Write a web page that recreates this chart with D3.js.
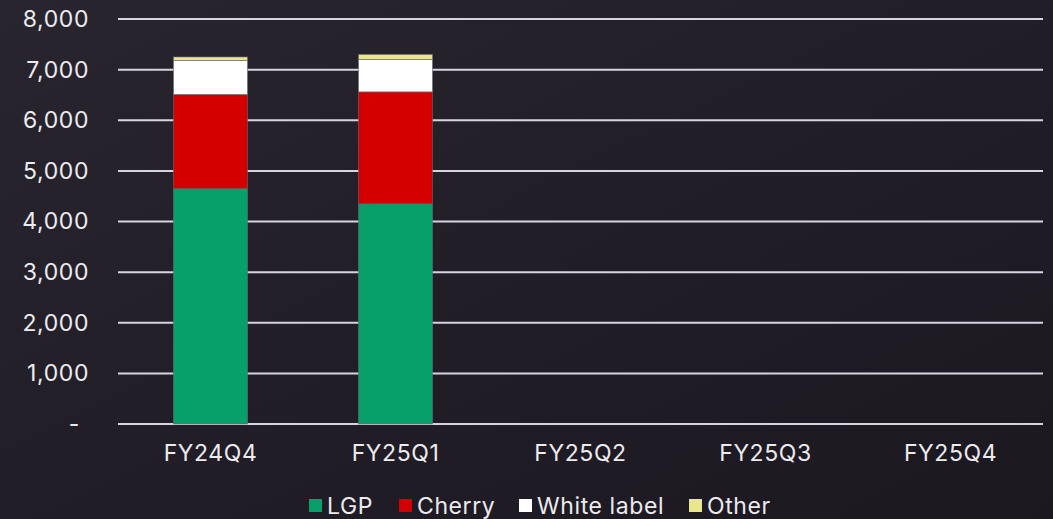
<!DOCTYPE html>
<html>
<head>
<meta charset="utf-8">
<script src="https://cdn.jsdelivr.net/npm/d3@7"></script>
<style>
  html, body { margin: 0; padding: 0; background: #221e27; }
  svg { display: block; }
  text { font-family: Inter, "Open Sans", sans-serif; fill: #ecebee; letter-spacing: 0.6px; }
</style>
</head>
<body>
<div id="chart"></div>
<script>
// data
let quarters = ["FY24Q4", "FY25Q1", "FY25Q2", "FY25Q3", "FY25Q4"];
let seriesNames = ["LGP", "Cherry", "White label", "Other"];
let lgp = [4650, 4350, null, null, null];
let cherry = [1860, 2210, null, null, null];
let whiteLabel = [670, 640, null, null, null];
let other = [70, 100, null, null, null];
let yTicks = [0, 1000, 2000, 3000, 4000, 5000, 6000, 7000, 8000];
let colors = ["#07a06b", "#d40000", "#ffffff", "#e8e88a"];

let w = 1053;
let h = 519;
let plotLeft = 118, plotRight = 1043, plotTop = 19, plotBottom = 424;

// build rows for the stack
let rows = quarters.map(function (q, i) {
  return { q: q, "LGP": lgp[i] || 0, "Cherry": cherry[i] || 0, "White label": whiteLabel[i] || 0, "Other": other[i] || 0 };
});
let stacked = d3.stack().keys(seriesNames)(rows);

let viz = d3.select("#chart").append("svg")
  .attr("width", w)
  .attr("height", h);

// dark background, lightly shaded
let defs = viz.append("defs");
let grad = defs.append("linearGradient").attr("id", "bg")
  .attr("x1", 0).attr("y1", 0).attr("x2", 1).attr("y2", 1);
grad.append("stop").attr("offset", 0).attr("stop-color", "#29252f");
grad.append("stop").attr("offset", 0.5).attr("stop-color", "#221e28");
grad.append("stop").attr("offset", 1).attr("stop-color", "#1c1820");
viz.append("rect").attr("width", w).attr("height", h).attr("fill", "url(#bg)");

let xScale = d3.scaleBand()
  .domain(quarters)
  .range([plotLeft, plotRight])
  .paddingInner(0.6)
  .paddingOuter(0.3);

let yScale = d3.scaleLinear()
  .domain([0, 8000])
  .range([plotBottom, plotTop]);

// gridlines
viz.append("g").selectAll("line")
  .data(yTicks)
  .enter().append("line")
  .attr("x1", plotLeft)
  .attr("x2", plotRight)
  .attr("y1", function (d) { return yScale(d); })
  .attr("y2", function (d) { return yScale(d); })
  .attr("stroke", "#d9d3e0")
  .attr("stroke-width", 2);

// y axis labels
let yAxis = d3.axisLeft(yScale)
  .tickValues(yTicks)
  .tickSize(0)
  .tickPadding(0)
  .tickFormat(function (d) { return d === 0 ? "-" : d3.format(",")(d); });
let yAxisGroup = viz.append("g")
  .attr("transform", "translate(89,0)")
  .call(yAxis);
yAxisGroup.select(".domain").remove();
yAxisGroup.selectAll("text")
  .attr("font-size", 23)
  .attr("fill", "#ecebee")
  .style("font-family", "Inter, sans-serif")
  .attr("dx", function (d) { return d === 0 ? -9 : 0; });

// x axis labels
let xAxis = d3.axisBottom(xScale).tickSize(0).tickPadding(0);
let xAxisGroup = viz.append("g")
  .attr("transform", "translate(0,445)")
  .call(xAxis);
xAxisGroup.select(".domain").remove();
xAxisGroup.selectAll("text")
  .attr("font-size", 23)
  .attr("fill", "#ecebee")
  .style("font-family", "Inter, sans-serif");

// stacked bars
let layers = viz.append("g").selectAll(".layer")
  .data(stacked)
  .enter().append("g")
  .attr("fill", function (d, i) { return colors[i]; });
layers.selectAll("rect")
  .data(function (d) { return d; })
  .enter().append("rect")
  .filter(function (d) { return d[1] - d[0] > 0; })
  .attr("x", function (d) { return xScale(d.data.q); })
  .attr("width", xScale.bandwidth())
  .attr("y", function (d) { return yScale(d[1]); })
  .attr("height", function (d) { return yScale(d[0]) - yScale(d[1]); })
  .attr("stroke", "#6b6670")
  .attr("stroke-width", 0.6);

// legend
let legendX = [309, 399, 519, 689];
let legend = viz.append("g").selectAll(".legend")
  .data(seriesNames)
  .enter().append("g")
  .attr("transform", function (d, i) { return "translate(" + legendX[i] + ",499)"; });
legend.append("rect")
  .attr("width", 13)
  .attr("height", 13)
  .attr("fill", function (d, i) { return colors[i]; });
legend.append("text")
  .attr("x", 18)
  .attr("y", 14.5)
  .attr("font-size", 23)
  .text(function (d) { return d; });
</script>
</body>
</html>
